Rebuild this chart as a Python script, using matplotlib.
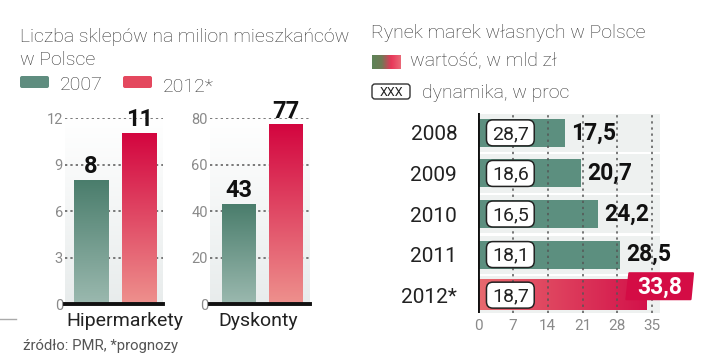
import matplotlib
matplotlib.use("Agg")
import matplotlib.pyplot as plt
import numpy as np
from matplotlib.colors import LinearSegmentedColormap
from matplotlib.patches import FancyBboxPatch, Polygon, Rectangle

# =========================
# DATA
# =========================
shop_groups = ["Hipermarkety", "Dyskonty"]
shops_2007 = [8, 43]
shops_2012 = [11, 77]
shop_ticks = [[0, 3, 6, 9, 12], [0, 20, 40, 60, 80]]
legend_years = ["2007", "2012*"]

years = ["2008", "2009", "2010", "2011", "2012*"]
value_bn = [17.5, 20.7, 24.2, 28.5, 33.8]
growth_pct = [28.7, 18.6, 16.5, 18.1, 18.7]
value_ticks = [0, 7, 14, 21, 28, 35]

# =========================
# STYLE
# =========================
plt.rcParams['font.family'] = ['Roboto', 'DejaVu Sans']
BOLD = ['Liberation Sans Narrow', 'Roboto', 'DejaVu Sans']
DARK = "#222222"
TICK = "#8a8a8a"
GRID = "#555555"
HEAD = "#333333"

green_cm = LinearSegmentedColormap.from_list("g", ["#9bb9af", "#4a7d6c"])
red_cm = LinearSegmentedColormap.from_list("r", ["#ee918d", "#d3053f"])
bg_cm = LinearSegmentedColormap.from_list("bg", ["#e8ecec", "#ffffff"])
red_h_cm = LinearSegmentedColormap.from_list("rh", ["#e86a6f", "#d3124a"])
leg_cm = LinearSegmentedColormap.from_list("lg", ["#5d8458", "#6f7a55", "#e8375a", "#ea6a78"])

W, H = 720, 363
fig = plt.figure(figsize=(7.2, 3.63), dpi=100)


def px_box(x0, y0, x1, y1):
    return [x0 / W, 1 - y1 / H, (x1 - x0) / W, (y1 - y0) / H]


def fmt(v):
    return f"{v:.1f}".replace(".", ",")


def grad(ax, x0, x1, y0, y1, cmap, vertical=True, z=2):
    arr = np.linspace(0, 1, 256)
    arr = arr.reshape(-1, 1) if vertical else arr.reshape(1, -1)
    ax.imshow(arr, extent=[x0, x1, y0, y1], origin='lower', aspect='auto',
              cmap=cmap, zorder=z, interpolation='bicubic')


# =========================
# OVERLAY (texts, legends)
# =========================
ov = fig.add_axes([0, 0, 1, 1])
ov.axis('off')

ov.text(20, 42, "Liczba sklepów na milion mieszkańców", fontsize=14, color=HEAD,
        fontweight='light', va='baseline')
ov.text(20, 65, "w Polsce", fontsize=14, color=HEAD, fontweight='light', va='baseline')

ov.add_patch(FancyBboxPatch((20, 76), 29, 12, boxstyle="round,pad=0,rounding_size=2",
                            fc="#5f8d7f", ec="none"))
ov.add_patch(FancyBboxPatch((123, 76), 29, 12, boxstyle="round,pad=0,rounding_size=2",
                            fc="#e4485e", ec="none"))
ov.text(60, 90, legend_years[0], fontsize=14, color=HEAD, fontweight='light', va='baseline')
ov.text(163, 92, legend_years[1], fontsize=14, color=HEAD, fontweight='light', va='baseline')

ov.text(371, 38, "Rynek marek własnych w Polsce", fontsize=14, color=HEAD,
        fontweight='light', va='baseline')
grad(ov, 372, 401, 69, 55, leg_cm, vertical=False, z=2)
ov.text(410, 65, "wartość, w mld zł", fontsize=14, color=HEAD, fontweight='light',
        va='baseline')
ov.add_patch(FancyBboxPatch((372, 84), 38, 15, boxstyle="round,pad=0,rounding_size=3",
                            fc="white", ec="#333333", lw=1))
ov.text(391, 92, "XXX", fontsize=9, color=DARK, ha='center', va='center')
ov.text(422, 98, "dynamika, w proc", fontsize=14, color=HEAD, fontweight='light',
        va='baseline')

ov.plot([0, 16], [319, 319], color="#aaaaaa", lw=1)
ov.text(23, 350, "źródło: PMR, *prognozy", fontsize=10.7, color="#555555", va='baseline')
ov.text(125, 326, shop_groups[0], fontsize=14, color=DARK, ha='center', va='baseline')
ov.text(258, 326, shop_groups[1], fontsize=14, color=DARK, ha='center', va='baseline')

ov.set_xlim(0, W)
ov.set_ylim(H, 0)

# =========================
# LEFT: SHOPS PER MILLION
# =========================
left_boxes = [(65, 118, 163, 304), (210, 118, 310, 304)]
left_xlims = [(-0.536, 1.485), (-0.617, 1.51)]
bar_w = 0.71

for k in range(2):
    ax = fig.add_axes(px_box(*left_boxes[k]))
    ticks = shop_ticks[k]
    top = ticks[-1]
    grad(ax, left_xlims[k][0], left_xlims[k][1], 0, top, bg_cm, z=0)
    for t in ticks[1:]:
        ax.axhline(t, color=GRID, lw=1.1, ls=(0, (1.5, 2)), zorder=1)
    for i, (v, cm) in enumerate([(shops_2007[k], green_cm), (shops_2012[k], red_cm)]):
        grad(ax, i - bar_w / 2, i + bar_w / 2, 0, v, cm, z=2)
        ax.annotate(str(v), (i, v), xytext=(0, 1.5), textcoords='offset points',
                    ha='center', va='bottom', fontsize=17, fontweight='bold',
                    family=BOLD, color="#111111", annotation_clip=False)
    ax.axhline(0, color="#111111", lw=2.8, zorder=4, clip_on=False)
    ax.set_xlim(*left_xlims[k])
    ax.set_ylim(0, top)
    ax.set_yticks(ticks)
    ax.set_yticklabels([str(t) for t in ticks])
    ax.set_xticks([])
    ax.tick_params(axis='y', length=0, pad=1.5, labelsize=10.5, labelcolor=TICK)
    for s in ax.spines.values():
        s.set_visible(False)
    ax.patch.set_alpha(0)

# =========================
# RIGHT: PRIVATE LABELS MARKET
# =========================
axr = fig.add_axes(px_box(478, 113, 700, 313))
axr.patch.set_alpha(0)
n = len(years)
for i in range(n):
    axr.add_patch(Rectangle((0, i - 0.47), 36.5, 0.94, fc="#eef1f0", ec="none", zorder=0))
for i in range(n - 1):
    axr.barh(i, value_bn[i], height=0.69, color="#5c8f7f", zorder=2)
grad(axr, 0, value_bn[-1], n - 1 + 0.37, n - 1 - 0.37, red_h_cm, vertical=False, z=2)

for t in value_ticks[1:]:
    axr.axvline(t, color=GRID, lw=1.1, ls=(0, (1.5, 2.5)), zorder=3)
axr.axvline(0, color="#111111", lw=2.8, zorder=5)

for i in range(n):
    axr.add_patch(FancyBboxPatch((1.7, i - 0.32), 9.6, 0.64,
                                 boxstyle="round,pad=0,rounding_size=1.3",
                                 mutation_aspect=0.123, fc="white", ec="#222222",
                                 lw=1.1, zorder=6))
    axr.text(6.5, i + 0.03, fmt(growth_pct[i]), fontsize=14, color=DARK,
             ha='center', va='center', zorder=7)
    if i < n - 1:
        axr.text(value_bn[i] + 1.2, i, fmt(value_bn[i]), fontsize=16.5, fontweight='bold',
                 family=BOLD, color="#111111", ha='left', va='center', zorder=7)
    else:
        yc = i - 0.22
        axr.add_patch(Polygon([(30.4, yc - 0.32), (43.2, yc - 0.32), (42.7, yc + 0.32),
                               (29.8, yc + 0.32)], closed=True, fc="#d40c45",
                              ec="#d40c45", lw=1.5, joinstyle='round', zorder=6))
        axr.text(36.5, yc + 0.02, fmt(value_bn[i]), fontsize=16.5, fontweight='bold',
                 family=BOLD, color="white", ha='center', va='center', zorder=7)

axr.set_xlim(0, 44.6)
axr.set_ylim(4.44, -0.49)
axr.set_yticks(range(n))
axr.set_yticklabels(years)
axr.set_xticks(value_ticks)
axr.set_xticklabels([str(t) for t in value_ticks])
axr.tick_params(axis='y', length=0, pad=15, labelsize=15, labelcolor=DARK)
axr.tick_params(axis='x', length=0, pad=4, labelsize=11, labelcolor=TICK)
for s in axr.spines.values():
    s.set_visible(False)

fig.savefig("out.png", dpi=100)
